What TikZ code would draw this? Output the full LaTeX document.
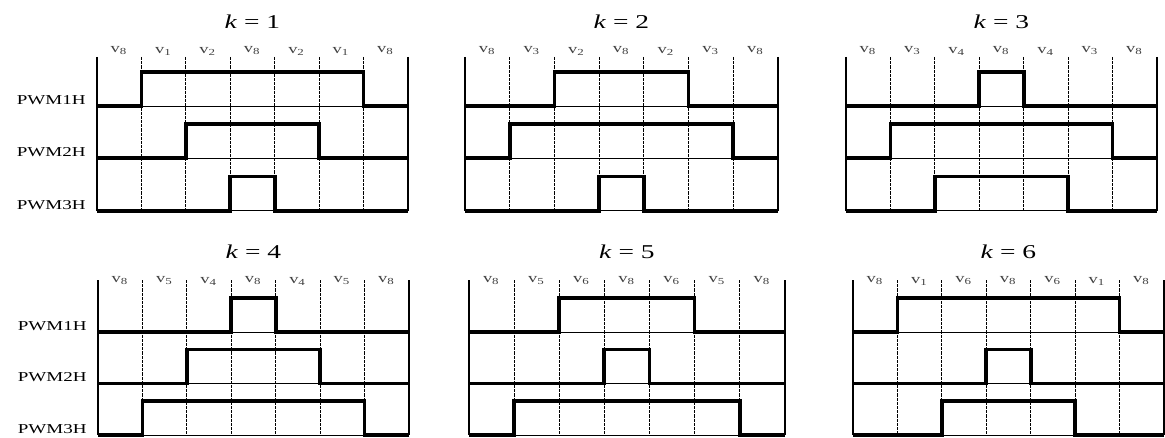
\documentclass[tikz,border=0pt]{standalone}
\usepackage{fontspec}
\setmainfont{Liberation Serif}
\usepackage{tikz}
\usetikzlibrary{positioning}
\newcommand{\widetxt}[1]{\scalebox{1.4}[1]{#1}}

\begin{document}
\begin{tikzpicture}[x=0.5pt,y=-0.5pt,
  frame/.style={line width=0.8pt},
  sep/.style={line width=0.5pt,dash pattern=on 1.6pt off 0.5pt},
  base/.style={line width=0.45pt},
  wave/.style={line width=1.9pt,line join=miter},
  title/.style={font=\fontsize{9.8}{11}\selectfont,inner sep=0pt},
  seg/.style={font=\fontsize{6.6}{7}\selectfont,inner sep=0pt,text=black!75},
  sig/.style={font=\fontsize{6.8}{8}\selectfont,inner sep=0pt}]
\useasboundingbox (0,0) rectangle (1165,438);
\foreach \k/\xl/\dx/\yl/\dy/\yt/\ty/\vy/\a/\b/\sa/\sb/\sc in {
  1/97/44.4/106/52.3/57/22/51/1/2/1/2/3,
  2/465/44.7/106/52.3/57/22/51/3/2/2/1/3,
  3/846/44.4/106/52.3/57/22/51/3/4/3/1/2,
  4/98/44.4/332/51.5/280/252/281/5/4/3/2/1,
  5/469/45.1/332/51.5/280/252/281/5/6/2/3/1,
  6/853/44.4/332/51.5/280/252/281/1/6/1/3/2}{
  \node[title] (k\k) at (\xl+3.5*\dx,\ty) {\widetxt{\textit{k} = \k}};
  \foreach \v [count=\i from 0] in {8,\a,\b,8,\b,\a,8}
    \node[seg] (v\k-\i) at (\xl+\i*\dx+0.5*\dx,\vy) {\widetxt{v\textsubscript{\v}}};
  \draw[frame] (\xl,\yt) -- (\xl,\yl+2*\dy) (\xl+7*\dx,\yt) -- (\xl+7*\dx,\yl+2*\dy);
  \foreach \i in {1,...,6}
    \draw[sep] (\xl+\i*\dx,\yt) -- (\xl+\i*\dx,\yl+2*\dy);
  \foreach \r/\s in {0/\sa,1/\sb,2/\sc}{
    \draw[base] (\xl,\yl+\r*\dy) -- (\xl+7*\dx,\yl+\r*\dy);
    \draw[wave] (\xl,\yl+\r*\dy) -- (\xl+\s*\dx,\yl+\r*\dy) -- (\xl+\s*\dx,\yl+\r*\dy-34)
      -- (\xl+7*\dx-\s*\dx,\yl+\r*\dy-34) -- (\xl+7*\dx-\s*\dx,\yl+\r*\dy) -- (\xl+7*\dx,\yl+\r*\dy);
    \ifnum\xl<100
      \coordinate (p\k-\r) at (\xl,\yl+\r*\dy-6);
      \node[sig,left=5.5pt of p\k-\r] (pwm\k-\r) {\widetxt{PWM\the\numexpr\r+1\relax H}};
    \fi}
}
\end{tikzpicture}
\end{document}
